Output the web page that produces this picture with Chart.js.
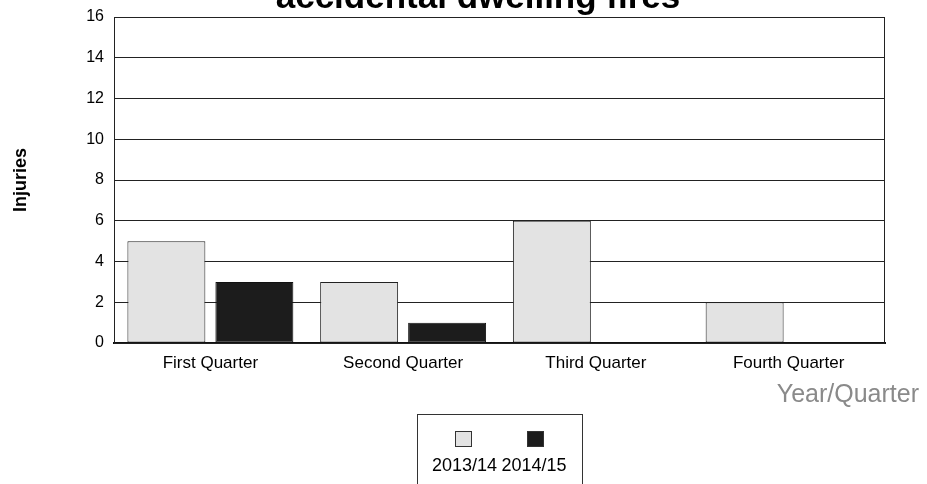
<!DOCTYPE html>
<html>
<head>
<meta charset="utf-8">
<script src="https://cdn.jsdelivr.net/npm/chart.js@4/dist/chart.umd.min.js"></script>
<style>
  html, body { margin: 0; padding: 0; background: #fff; }
  #wrap { width: 927px; height: 484px; position: relative; }
</style>
</head>
<body>
<div id="wrap"><canvas id="chart" width="927" height="484"></canvas></div>
<script>
// 数据
const quarters = ['First Quarter', 'Second Quarter', 'Third Quarter', 'Fourth Quarter'];
const seriesNames = ['2013/14', '2014/15'];
const injuries1314 = [5, 3, 6, 2];
const injuries1415 = [3, 1, 0, 0];
const yTicks = [0, 2, 4, 6, 8, 10, 12, 14, 16];
const seriesColors = ['#e3e3e3', '#1c1c1c'];

const FONT = '"Liberation Sans", Arial, sans-serif';

// 标题、外框、x 轴标题和图例
const decorPlugin = {
  id: 'decor',
  afterDraw(chart) {
    const { ctx, chartArea: a } = chart;
    ctx.save();
    // 外框
    ctx.strokeStyle = '#222';
    ctx.lineWidth = 1;
    ctx.strokeRect(a.left + 0.5, a.top + 0.5, a.right - a.left - 1, a.bottom - a.top);

    // 标题（上半部分被裁掉）
    ctx.fillStyle = '#000';
    ctx.font = 'bold 35px ' + FONT;
    ctx.textAlign = 'center';
    ctx.textBaseline = 'alphabetic';
    ctx.fillText('accidental dwelling fires', 478, 8);

    // x 轴标题
    ctx.fillStyle = '#8a8a8a';
    ctx.font = '25px ' + FONT;
    ctx.textAlign = 'right';
    ctx.fillText('Year/Quarter', 919, 402);

    // 图例
    const bx = 417, by = 414, bw = 165;
    ctx.strokeStyle = '#333';
    ctx.strokeRect(bx + 0.5, by + 0.5, bw, 80);
    const boxCenters = [463.5, 535.5];
    const textCenters = [464.5, 534];
    ctx.font = '18px ' + FONT;
    ctx.textAlign = 'center';
    chart.data.datasets.forEach((ds, i) => {
      const cx = boxCenters[i];
      ctx.fillStyle = ds.backgroundColor;
      ctx.fillRect(cx - 8.5, 431, 17, 16);
      ctx.strokeStyle = '#333';
      ctx.strokeRect(cx - 8, 431.5, 16, 15);
      ctx.fillStyle = '#000';
      ctx.fillText(ds.label, textCenters[i], 471);
    });
    ctx.restore();
  }
};

new Chart(document.getElementById('chart'), {
  type: 'bar',
  data: {
    labels: quarters,
    datasets: [
      { label: seriesNames[0], data: injuries1314, backgroundColor: seriesColors[0], borderColor: '#222', borderWidth: 1, borderSkipped: false },
      { label: seriesNames[1], data: injuries1415, backgroundColor: seriesColors[1], borderColor: '#111', borderWidth: 1, borderSkipped: false }
    ]
  },
  options: {
    responsive: false,
    animation: false,
    layout: { padding: { top: 17, right: 42, left: 0, bottom: 0 } },
    categoryPercentage: 0.913,
    barPercentage: 0.886,
    plugins: {
      legend: { display: false },
      title: { display: false },
      tooltip: { enabled: false }
    },
    scales: {
      x: {
        grid: { display: false },
        border: { color: '#111', width: 2 },
        ticks: { color: '#000', font: { family: FONT, size: 17 }, padding: 2, maxRotation: 0 },
        afterFit(scale) { scale.height = 141; }
      },
      y: {
        min: 0,
        max: 16,
        afterBuildTicks(scale) { scale.ticks = yTicks.map(v => ({ value: v })); },
        grid: { color: '#222', lineWidth: 1, drawTicks: false },
        border: { color: '#222', width: 1 },
        ticks: { color: '#000', font: { family: FONT, size: 16 }, padding: 10 },
        title: { display: true, text: 'Injuries', color: '#000', font: { family: FONT, size: 18, weight: 'bold' }, padding: { top: 10, bottom: 0 } },
        afterFit(scale) {
          scale.width = 114;
          scale.paddingTop = 0;
          scale.paddingBottom = 0;
        }
      }
    }
  },
  plugins: [decorPlugin]
});
</script>
</body>
</html>
